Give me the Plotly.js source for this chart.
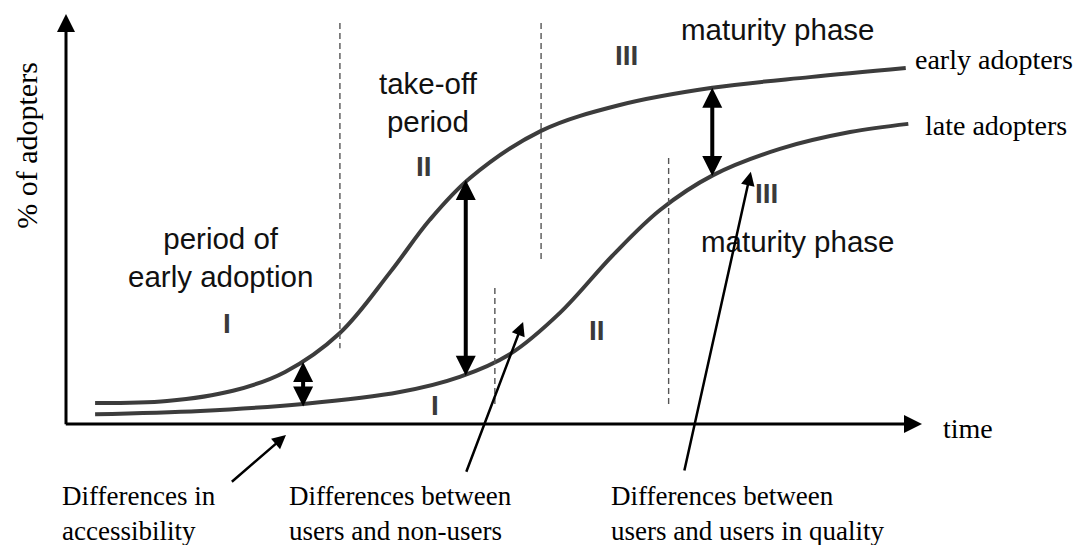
<!DOCTYPE html>
<html>
<head>
<meta charset="utf-8">
<script src="https://cdn.plot.ly/plotly-3.0.1.min.js"></script>
<style>
html,body{margin:0;padding:0;background:#fff;}
#chart{width:1076px;height:545px;}
</style>
</head>
<body>
<div id="chart"></div>
<script>
// ---- data (time and % of adopters, in axis units 0..100) ----
const earlyTime = [3.4, 11.8, 19.5, 25.6, 32.0, 37.9, 42.5, 47.2, 55.5, 64.7, 75.5, 86.9, 98.1];
const earlyAdopters = [5.1, 5.6, 8.1, 12.7, 22.2, 37.1, 49.8, 60.0, 71.5, 77.8, 82.0, 84.6, 86.8];
const lateTime = [3.4, 15.7, 27.7, 39.0, 46.0, 51.9, 57.7, 63.9, 69.4, 75.6, 83.4, 91.6, 98.4];
const lateAdopters = [2.4, 3.2, 4.9, 7.8, 11.5, 17.1, 27.1, 41.2, 52.2, 60.7, 67.1, 71.2, 73.2];

// phase boundaries (dashed verticals)
const boundaryTime = [32.0, 55.5, 50.1, 70.4];
const boundaryTop = [97.8, 97.8, 33.2, 64.9];
const boundaryBottom = [18.5, 40.0, 4.6, 4.4];

// gaps between the curves (double arrows)
const gapTime = [27.7, 46.7, 75.5];
const gapUpper = [15.1, 59.5, 82.0];
const gapLower = [3.9, 11.4, 60.1];

// labels
const seriesNames = ['early adopters', 'late adopters'];
const phaseNames = ['period of<br>early adoption', 'take-off<br>period', 'maturity phase', 'maturity phase'];
const romanUpper = ['I', 'II', 'III'];
const romanLower = ['I', 'II', 'III'];
const differenceNotes = ['Differences in<br>accessibility', 'Differences between<br>users and non-users', 'Differences between<br>users and users in quality'];
const axisTitles = {x: 'time', y: '% of adopters'};

// ---- drawing ----
const SANS = '"Liberation Sans", Arial, sans-serif';
const SERIF = '"Liberation Serif", "Times New Roman", serif';
const curveColor = '#3c3c3c';

const bx = [], by = [];
boundaryTime.forEach((t, i) => { bx.push(t, t, null); by.push(boundaryTop[i], boundaryBottom[i], null); });

const traces = [
  {x: earlyTime, y: earlyAdopters, mode: 'lines', line: {color: curveColor, width: 4, shape: 'spline', smoothing: 1}, name: seriesNames[0]},
  {x: lateTime, y: lateAdopters, mode: 'lines', line: {color: curveColor, width: 4, shape: 'spline', smoothing: 1}, name: seriesNames[1]},
  {x: bx, y: by, mode: 'lines', line: {color: '#555', width: 1.4, dash: '6px,4px'}, name: 'phases'}
];

const ann = [];
function txt(text, x, y, o) {
  ann.push(Object.assign({text: text, x: x, y: y, xref: 'x', yref: 'y', showarrow: false,
    xanchor: 'center', yanchor: 'middle', font: {family: SANS, size: 29.5, color: '#111'}}, o || {}));
}
function arrow(x, y, ax, ay, o) {
  ann.push(Object.assign({text: '', x: x, y: y, ax: ax, ay: ay, xref: 'x', yref: 'y', axref: 'x', ayref: 'y',
    showarrow: true, arrowhead: 2, arrowsize: 1, arrowwidth: 2.5, arrowcolor: '#000', font: {size: 1}}, o || {}));
}

// phase texts
txt(phaseNames[0], 18.1, 40.6);
txt(phaseNames[1], 42.4, 78.4);
txt(phaseNames[2], 83.1, 96.1);
txt(phaseNames[3], 85.4, 44.6);
const romanFont = {family: SANS, size: 28, color: '#3a3a3a', weight: 'bold'};
const upPos = [[18.8, 24.6], [41.8, 62.7], [65.5, 89.8]];
const loPos = [[43.1, 4.6], [62.0, 22.7], [81.8, 56.3]];
romanUpper.forEach((r, i) => txt('<b>' + r + '</b>', upPos[i][0], upPos[i][1], {font: romanFont}));
romanLower.forEach((r, i) => txt('<b>' + r + '</b>', loPos[i][0], loPos[i][1], {font: romanFont}));

// series labels
const serifFont = {family: SERIF, size: 28, color: '#000'};
txt(seriesNames[0], 98.9, 88.8, {xanchor: 'left', font: serifFont});
txt(seriesNames[1], 100.1, 72.7, {xanchor: 'left', font: serifFont});
txt(axisTitles.x, 102.2, -1.2, {xanchor: 'left', font: serifFont});
txt(axisTitles.y, -4.6, 68.0, {textangle: -90, font: {family: SERIF, size: 30, color: '#000'}});

// notes under the axis
const noteX = [-0.7, 25.8, 63.4];
differenceNotes.forEach((n, i) => txt(n, noteX[i], -21.9, {xanchor: 'left', align: 'left', font: {family: SERIF, size: 27, color: '#000'}}));

// axes with arrowheads
arrow(0, 100, 0, -0.4, {arrowwidth: 3, arrowsize: 1.2});
arrow(100, 0, -0.2, 0, {arrowwidth: 3, arrowsize: 1.2});

// gap double arrows
gapTime.forEach((t, i) => arrow(t, gapUpper[i], t, gapLower[i], {arrowwidth: 4, arrowside: 'end+start', startarrowhead: 2, startarrowsize: 1}));

// note pointers
const noteHead = [[25.7, -2.7], [53.4, 24.9], [80.0, 61.5]];
const noteTail = [[19.2, -14.4], [46.7, -12.0], [72.2, -11.7]];
noteHead.forEach((h, i) => arrow(h[0], h[1], noteTail[i][0], noteTail[i][1], {arrowwidth: 2.5, arrowsize: 1.1}));

const layout = {
  width: 1076, height: 545,
  margin: {l: 0, r: 0, t: 0, b: 0, pad: 0},
  paper_bgcolor: '#fff', plot_bgcolor: '#fff',
  showlegend: false,
  hovermode: false,
  xaxis: {range: [-7.71, 117.99], visible: false, fixedrange: true},
  yaxis: {range: [-29.51, 103.41], visible: false, fixedrange: true},
  annotations: ann
};
Plotly.newPlot('chart', traces, layout, {displayModeBar: false, staticPlot: true});
</script>
</body>
</html>
